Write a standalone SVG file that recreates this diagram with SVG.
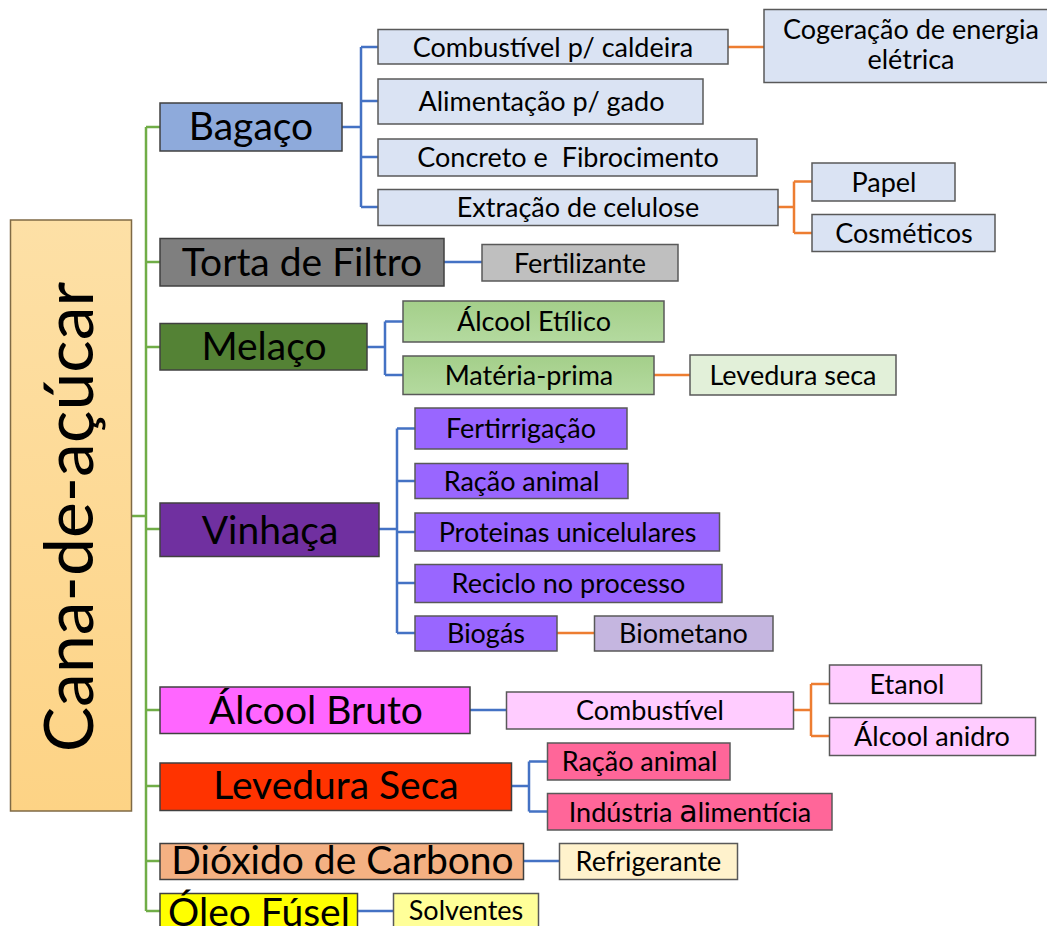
<svg xmlns="http://www.w3.org/2000/svg" width="1047" height="926" viewBox="0 0 1047 926">
<defs>
<linearGradient id="gRoot" x1="0" y1="0" x2="0" y2="1"><stop offset="0" stop-color="#fde0a6"/><stop offset="1" stop-color="#fdd385"/></linearGradient>
<linearGradient id="gGreen" x1="0" y1="0" x2="0" y2="1"><stop offset="0" stop-color="#a4cf8a"/><stop offset="1" stop-color="#b4da9f"/></linearGradient>
<style>
text{font-family:Lato,"Liberation Sans",sans-serif;fill:#000;text-anchor:middle}
.t1{font-size:39px}
.t2{font-size:27px}
.box{stroke:#595959;stroke-width:1.5}
.l1{stroke:#404040;stroke-width:1.5}
.g{fill:none;stroke:#70ad47;stroke-width:2.5}
.b{fill:none;stroke:#4472c4;stroke-width:2.5}
.o{fill:none;stroke:#ed7d31;stroke-width:2.5}
</style>
</defs>
<rect width="1047" height="926" fill="#fff"/>
<g id="connectors">
<path class="g" d="M146 127V911M131 516H146M146 127H160M146 262H160M146 347H160M146 529H160M146 710H160M146 786H160M146 861H160M146 911H160"/>
<path class="b" d="M342 127H361M361 47V207M361 47H378M361 101H378M361 157H378M361 207H378"/>
<path class="b" d="M444 262H482"/>
<path class="b" d="M367 347H385M385 321.5V375M385 321.5H403M385 375H403"/>
<path class="b" d="M379 529H397M397 428.5V633M397 428.5H415M397 481H415M397 532H415M397 583H415M397 633H415"/>
<path class="b" d="M470 710H506"/>
<path class="b" d="M512 786H529M529 761.5V811.5M529 761.5H547M529 811.5H547"/>
<path class="b" d="M523 861H559"/>
<path class="b" d="M357 911H393"/>
<path class="o" d="M728 47H764"/>
<path class="o" d="M778 207H794M794 181.5V233M794 181.5H812M794 233H812"/>
<path class="o" d="M654 375H690"/>
<path class="o" d="M557 633H594"/>
<path class="o" d="M793 710H811M811 684V736M811 684H829M811 736H829"/>
</g>
<g id="root"><rect x="10.5" y="220" width="121" height="591" fill="url(#gRoot)" stroke="#7f6a45" stroke-width="1.5"/><text transform="translate(93,517) rotate(-90)" font-size="68">Cana-de-açúcar</text></g>
<g id="bagaco"><rect class="l1" x="160" y="103" width="182" height="48" fill="#8eaadb"/><text class="t1" x="251" y="139.5">Bagaço</text></g>
<g id="combustivel-caldeira"><rect class="box" x="378" y="29.5" width="350" height="34.5" fill="#dae3f3"/><text class="t2" x="553" y="56.5">Combustível p/ caldeira</text></g>
<g id="cogeracao"><rect class="box" x="764" y="9.5" width="290" height="73" fill="#dae3f3"/><text class="t2" x="911" y="38.5" font-size="25.5">Cogeração de energia</text><text class="t2" x="911" y="69" font-size="25.5">elétrica</text></g>
<g id="alimentacao"><rect class="box" x="378" y="79" width="325" height="45" fill="#dae3f3"/><text class="t2" x="541.5" y="111">Alimentação p/ gado</text></g>
<g id="concreto"><rect class="box" x="378" y="139" width="379" height="37" fill="#dae3f3"/><text class="t2" x="568" y="167" style="white-space:pre">Concreto e  Fibrocimento</text></g>
<g id="extracao"><rect class="box" x="378" y="189.5" width="400" height="36" fill="#dae3f3"/><text class="t2" x="578" y="217">Extração de celulose</text></g>
<g id="papel"><rect class="box" x="812" y="163" width="143" height="38" fill="#dae3f3"/><text class="t2" x="884" y="191.5">Papel</text></g>
<g id="cosmeticos"><rect class="box" x="812" y="214.5" width="183" height="37" fill="#dae3f3"/><text class="t2" x="904" y="242.5">Cosméticos</text></g>
<g id="torta"><rect class="l1" x="160" y="238.5" width="284" height="47.5" fill="#7f7f7f"/><text class="t1" x="302" y="275.5">Torta de Filtro</text></g>
<g id="fertilizante"><rect class="box" x="482" y="244.5" width="196" height="36.5" fill="#bfbfbf"/><text class="t2" x="580" y="272.5">Fertilizante</text></g>
<g id="melaco"><rect class="l1" x="160" y="323.5" width="207" height="46.5" fill="#548235"/><text class="t1" x="264" y="359.5">Melaço</text></g>
<g id="alcool-etilico"><rect class="box" x="403" y="301" width="261" height="41" fill="url(#gGreen)"/><text class="t2" x="534" y="331">Álcool Etílico</text></g>
<g id="materia-prima"><rect class="box" x="403" y="356" width="251" height="38.5" fill="url(#gGreen)"/><text class="t2" x="529" y="385">Matéria-prima</text></g>
<g id="levedura-seca-m"><rect class="box" x="690" y="355" width="206" height="40" fill="#e2f0d9"/><text class="t2" x="793" y="384.5">Levedura seca</text></g>
<g id="vinhaca"><rect class="l1" x="160" y="503" width="219" height="53.5" fill="#7030a0"/><text class="t1" x="270" y="543.5">Vinhaça</text></g>
<g id="fertirrigacao"><rect class="box" x="415" y="408" width="212" height="41" fill="#9966ff"/><text class="t2" x="521" y="438">Fertirrigação</text></g>
<g id="racao-v"><rect class="box" x="415" y="463.5" width="213" height="35" fill="#9966ff"/><text class="t2" x="521.5" y="490.5">Ração animal</text></g>
<g id="proteinas"><rect class="box" x="415" y="513" width="304.5" height="38" fill="#9966ff"/><text class="t2" x="567.5" y="541.5">Proteinas unicelulares</text></g>
<g id="reciclo"><rect class="box" x="415" y="564.5" width="307" height="38" fill="#9966ff"/><text class="t2" x="568.5" y="593">Reciclo no processo</text></g>
<g id="biogas"><rect class="box" x="415" y="616" width="142" height="35" fill="#9966ff"/><text class="t2" x="486" y="643">Biogás</text></g>
<g id="biometano"><rect class="box" x="594.5" y="616" width="178.5" height="35" fill="#c5b6e0"/><text class="t2" x="683.5" y="643">Biometano</text></g>
<g id="alcool-bruto"><rect class="l1" x="160" y="687" width="310" height="46.5" fill="#ff66ff"/><text class="t1" x="316" y="723.5">Álcool Bruto</text></g>
<g id="combustivel"><rect class="box" x="506.5" y="692" width="287" height="37" fill="#ffccff"/><text class="t2" x="650" y="720">Combustível</text></g>
<g id="etanol"><rect class="box" x="829.5" y="665" width="152" height="38.5" fill="#ffccff"/><text class="t2" x="907" y="694">Etanol</text></g>
<g id="alcool-anidro"><rect class="box" x="829.5" y="717.5" width="206" height="38" fill="#ffccff"/><text class="t2" x="932" y="746">Álcool anidro</text></g>
<g id="levedura-seca"><rect class="l1" x="160" y="763" width="351.5" height="47.5" fill="#ff3300"/><text class="t1" x="336" y="799">Levedura Seca</text></g>
<g id="racao-l"><rect class="box" x="547.5" y="743" width="182.5" height="37" fill="#ff6699"/><text class="t2" x="639.5" y="771">Ração animal</text></g>
<g id="industria"><rect class="box" x="547.5" y="793.5" width="284.5" height="36.5" fill="#ff6699"/><text class="t2" x="690" y="821.5">Indústria <tspan font-family="DejaVu Sans,sans-serif" font-size="30">a</tspan>limentícia</text></g>
<g id="dioxido"><rect class="l1" x="160" y="843.5" width="363.5" height="36" fill="#f4b183"/><text class="t1" x="342.5" y="874">Dióxido de Carbono</text></g>
<g id="refrigerante"><rect class="box" x="559.5" y="843.5" width="178" height="36" fill="#fff2cc"/><text class="t2" x="648.5" y="871">Refrigerante</text></g>
<g id="oleo"><rect class="l1" x="160" y="893.5" width="197.5" height="50" fill="#ffff00"/><text class="t1" x="259" y="926">Óleo Fúsel</text></g>
<g id="solventes"><rect class="box" x="393.5" y="893.5" width="145" height="50" fill="#ffff99"/><text class="t2" x="466" y="920">Solventes</text></g>
</svg>
